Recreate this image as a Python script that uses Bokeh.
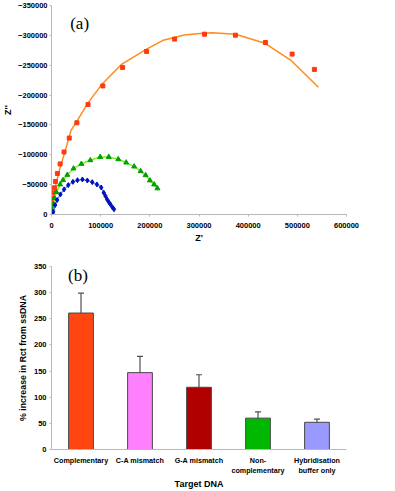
from bokeh.plotting import figure
from bokeh.layouts import column
from bokeh.models import (Range1d, FactorRange, FixedTicker, BasicTickFormatter,
                          ColumnDataSource, Whisker, TeeHead, Label, CategoricalAxis,
                          CustomJSTickFormatter)
from bokeh.embed import file_html
from bokeh.resources import INLINE

# ---------------- data: panel (a) Nyquist plot ----------------
orange_zre = [700, 1500, 2500, 4000, 6000, 8000, 12000, 17500, 25500, 36100, 51600,
              74300, 104400, 144600, 193400, 250400, 311200, 374100, 435100, 489400, 534700]
orange_zim = [-9000, -18000, -27000, -36300, -44700, -55300, -68700, -84700, -104700, -128000, -153600,
              -184200, -215300, -246300, -273000, -293700, -302000, -300300, -288000, -268600, -243000]
orange_fit_zre = [0, 2600, 9400, 16100, 26100, 39600, 52800, 72900, 103000, 143200, 193400,
                  226900, 270000, 307200, 327300, 374100, 434300, 488000, 542800]
orange_fit_zim = [0, -21300, -52000, -74200, -102000, -140800, -157500, -185300, -218700, -252000, -277000,
                  -291700, -300500, -303700, -304200, -302000, -286700, -257500, -213000]

green_zre = [1000, 2000, 4000, 6000, 10000, 17500, 23500, 32100, 44800, 60800, 78900, 99000,
             116500, 135900, 152000, 168100, 181300, 191400, 200200, 208800, 215500]
green_zim = [-4200, -10800, -17500, -27500, -37500, -50300, -57500, -66300, -77000, -84700, -90800, -96300,
             -96300, -92500, -87000, -80300, -72500, -65800, -57000, -50300, -43700]

blue_zre = [0, 3400, 7400, 11400, 18100, 25500, 34100, 43600, 52800, 62900, 72900, 82900, 92400,
            101000, 106400, 109800, 113100, 116500, 119900, 123900, 127100]
blue_zim = [0, -4700, -15800, -24200, -33700, -42000, -49200, -54700, -57500, -58700, -57000, -54200, -50300,
            -45300, -36300, -30800, -25300, -20800, -17000, -12000, -8700]

x_ticks_a = [0, 100000, 200000, 300000, 400000, 500000, 600000]
y_ticks_a = [0, -50000, -100000, -150000, -200000, -250000, -300000, -350000]

# ---------------- data: panel (b) bar chart ----------------
targets = ["Complementary", "C-A mismatch", "G-A mismatch", "Non-complementary", "Hybridisation buffer only"]
label_line1 = ["Complementary", "C-A mismatch", "G-A mismatch", "Non-", "Hybridisation"]
label_line2 = ["", "", "", "complementary", "buffer only"]
increase = [261, 147, 119, 60, 52]
error = [38, 31, 24, 12, 6]
bar_colors = ["#FF4510", "#FF80FF", "#B00000", "#00B800", "#9999FF"]
y_ticks_b = [0, 50, 100, 150, 200, 250, 300, 350]

FONT = "Liberation Sans"
SERIF = "Liberation Serif"
AXIS_COLOR = "#B8B8C0"

# ---------------- panel (a) ----------------
pa = figure(width=395, height=245, output_backend="svg", toolbar_location=None,
            x_range=Range1d(0, 600000), y_range=Range1d(0, -350000),
            min_border_left=47, min_border_right=49, min_border_top=5, min_border_bottom=30)
pa.outline_line_color = None
pa.xgrid.visible = False
pa.ygrid.visible = False

pa.line(orange_fit_zre, orange_fit_zim, line_color="#FF8C1A", line_width=1.5)
pa.scatter(orange_zre, orange_zim, marker="square", size=4, fill_color="#FF3A10", line_color="#FF3A10")
pa.line(green_zre, green_zim, line_color="#80F020", line_width=1.5)
pa.scatter(green_zre, green_zim, marker="triangle", size=5, fill_color="#00A000", line_color="#00A000")
pa.line(blue_zre, blue_zim, line_color="#7090F0", line_width=1.5)
pa.scatter(blue_zre, blue_zim, marker="diamond", size=5, fill_color="#0010C0", line_color="#0010C0")

for ax in (pa.xaxis[0], pa.yaxis[0]):
    ax.formatter = BasicTickFormatter(use_scientific=False)
    ax.axis_line_color = AXIS_COLOR
    ax.major_tick_line_color = AXIS_COLOR
    ax.major_tick_in = 0
    ax.major_tick_out = 2
    ax.minor_tick_line_color = None
    ax.major_label_text_font = FONT
    ax.major_label_text_font_style = "bold"
    ax.major_label_text_font_size = "7.5px"
    ax.major_label_text_color = "#000000"
    ax.major_label_standoff = 2
    ax.axis_label_text_font = FONT
    ax.axis_label_text_font_style = "bold"
    ax.axis_label_text_font_size = "9px"
    ax.axis_label_text_color = "#000000"
    ax.axis_label_standoff = 2
pa.xaxis[0].ticker = FixedTicker(ticks=x_ticks_a)
pa.yaxis[0].ticker = FixedTicker(ticks=y_ticks_a)
pa.xaxis[0].major_label_standoff = 6
pa.xaxis[0].axis_label = "Z'"
pa.yaxis[0].axis_label = "Z''"

pa.add_layout(Label(x=38000, y=-320000, text="(a)", text_font=SERIF, text_font_size="17px",
                    text_baseline="middle", text_color="#000000"))

# ---------------- panel (b) ----------------
src = ColumnDataSource(dict(target=targets, value=increase, color=bar_colors,
                            upper=[v + e for v, e in zip(increase, error)],
                            lower=[v - e for v, e in zip(increase, error)]))

pb = figure(width=395, height=246, output_backend="svg", toolbar_location=None,
            x_range=FactorRange(*targets), y_range=Range1d(0, 350),
            min_border_left=42, min_border_right=3, min_border_top=21, min_border_bottom=41)
pb.outline_line_color = None
pb.xgrid.visible = False
pb.ygrid.visible = False

pb.vbar(x="target", top="value", width=0.42, source=src, fill_color="color",
        line_color="#484848", line_width=1)
wh = Whisker(source=src, base="target", upper="upper", lower="lower",
             line_color="#505050", line_width=1.2,
             upper_head=TeeHead(size=6, line_color="#505050", line_width=1.2),
             lower_head=TeeHead(size=6, line_color="#505050", line_width=1.2))
pb.add_layout(wh)

def style_axis(ax):
    ax.axis_line_color = AXIS_COLOR
    ax.major_tick_line_color = AXIS_COLOR
    ax.major_tick_in = 0
    ax.major_tick_out = 2
    ax.minor_tick_line_color = None
    ax.major_label_text_font = FONT
    ax.major_label_text_font_style = "bold"
    ax.major_label_text_font_size = "7.5px"
    ax.major_label_text_color = "#000000"
    ax.major_label_standoff = 3
    ax.axis_label_text_font = FONT
    ax.axis_label_text_font_style = "bold"
    ax.axis_label_text_color = "#000000"
    ax.axis_label_standoff = 3

style_axis(pb.xaxis[0])
style_axis(pb.yaxis[0])
pb.yaxis[0].ticker = FixedTicker(ticks=y_ticks_b)
pb.yaxis[0].axis_label = "% increase in Rct from ssDNA"
pb.yaxis[0].axis_label_text_font_size = "8.8px"

LOOKUP = "const i = names.indexOf(tick); return i >= 0 ? lines[i] : tick;"

# first line of category labels
xa1 = pb.xaxis[0]
xa1.major_tick_out = 0
xa1.major_label_text_font_size = "7.2px"
xa1.major_label_standoff = 6
xa1.formatter = CustomJSTickFormatter(args=dict(names=targets, lines=label_line1), code=LOOKUP)

# second line of category labels + axis title
xa2 = CategoricalAxis()
style_axis(xa2)
xa2.axis_line_color = None
xa2.major_tick_line_color = None
xa2.major_tick_out = 0
xa2.major_label_text_font_size = "7.2px"
xa2.major_label_standoff = -2
xa2.formatter = CustomJSTickFormatter(args=dict(names=targets, lines=label_line2), code=LOOKUP)
xa2.axis_label = "Target DNA"
xa2.axis_label_text_font_size = "9px"
xa2.axis_label_standoff = 1
pb.add_layout(xa2, "below")

pb.add_layout(Label(x=0.28, y=333, text="(b)", text_font=SERIF, text_font_size="17px",
                    text_baseline="middle", text_color="#000000"))

layout = column(pa, pb, spacing=0)
open("out.html", "w").write(file_html(layout, INLINE))
